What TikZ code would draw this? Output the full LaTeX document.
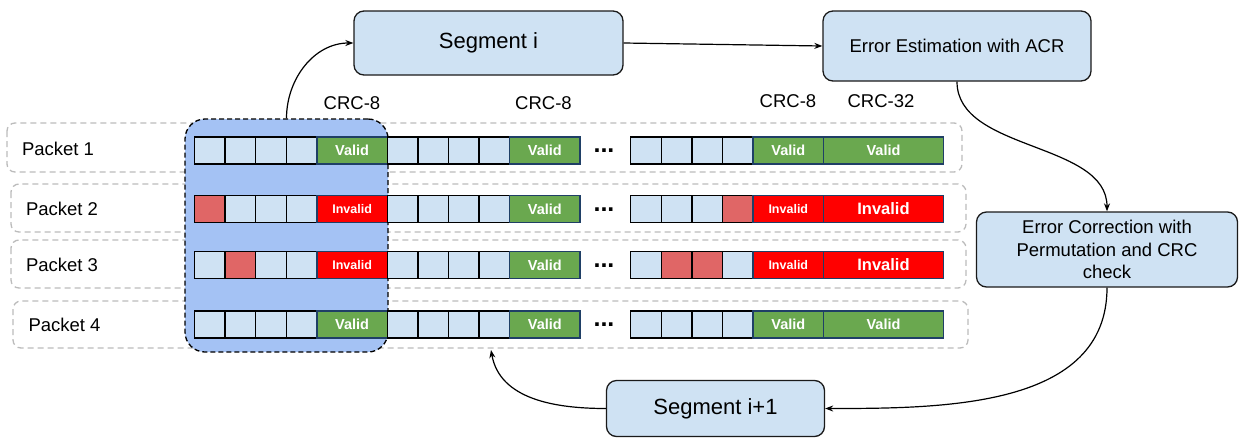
\documentclass[tikz,border=0pt]{standalone}
\usepackage{fontspec}
\setmainfont{Liberation Sans}
\usetikzlibrary{arrows.meta}

\definecolor{cellblue}{HTML}{CFE2F3}
\definecolor{cellred}{HTML}{E06666}
\definecolor{badred}{HTML}{FF0000}
\definecolor{okgreen}{HTML}{6AA84F}
\definecolor{selblue}{HTML}{A4C2F4}
\definecolor{crcedge}{HTML}{1F3F66}
\definecolor{rowgray}{HTML}{BBBBBB}
\definecolor{boxedge}{HTML}{1A1A1A}

\tikzset{
  lbl/.style={font=\fontsize{18.5}{22.5}\selectfont, inner sep=0pt},
  proc/.style={draw=boxedge, fill=cellblue, line width=1.3pt, rounded corners=10pt,
               align=center, inner sep=0pt, font=\fontsize{18.5}{22.5}\selectfont},
  segbox/.style={proc, font=\fontsize{22}{26}\selectfont},
  rowbox/.style={draw=rowgray, line width=1.3pt, dash pattern=on 6pt off 4pt, rounded corners=8pt},
  sel/.style={draw=black, fill=selblue, line width=1.3pt, dash pattern=on 5pt off 3pt,
              rounded corners=20pt, inner sep=0pt},
  cell/.style={draw=black, line width=1.4pt, minimum width=30.6pt, minimum height=27pt,
               inner sep=0pt, outer sep=0pt, anchor=west},
  crc/.style={draw=crcedge, line width=1.3pt, minimum height=27pt, inner sep=0pt,
              outer sep=0pt, anchor=west, text=white},
  crcok/.style={crc, fill=okgreen, minimum width=70.4pt, font=\bfseries\fontsize{14.5}{16}\selectfont},
  crcbad/.style={crc, fill=badred, minimum width=70.4pt, font=\bfseries\fontsize{12.5}{14}\selectfont},
  bigok/.style={crc, fill=okgreen, minimum width=120pt, font=\bfseries\fontsize{14.5}{16}\selectfont},
  bigbad/.style={crc, fill=badred, minimum width=120pt, font=\bfseries\fontsize{16.5}{18}\selectfont},
  dots/.style={font=\bfseries\fontsize{25}{27}\selectfont, inner sep=0pt},
  link/.style={draw=black, line width=1.2pt, -{Stealth[length=8pt,width=6pt]}}
}

% four data cells of one group, named <prefix>-1 .. <prefix>-4
\newcommand\cellgroup[7]{%
  \node[cell, fill=#4] (#1-1) at (#2, #3) {};
  \node[cell, fill=#5] (#1-2) at (#1-1.east) {};
  \node[cell, fill=#6] (#1-3) at (#1-2.east) {};
  \node[cell, fill=#7] (#1-4) at (#1-3.east) {};
}

\begin{document}
\begin{tikzpicture}[x=1pt, y=-1pt]
\useasboundingbox (0,0) rectangle (1239,437);

% dashed outlines of the four packets
\draw[rowbox] (7,123) rectangle (962,172);
\draw[rowbox] (11,184) rectangle (966,232);
\draw[rowbox] (11,240) rectangle (966,288);
\draw[rowbox] (13,301) rectangle (968,348);

% current segment selection
\node[sel, minimum width=203pt, minimum height=233pt] (sel) at (286.5,235.5) {};

% packet labels
\node[lbl] (p1) at (58,149) {Packet 1};
\node[lbl] (p2) at (62,209) {Packet 2};
\node[lbl] (p3) at (62,265) {Packet 3};
\node[lbl] (p4) at (64.5,325) {Packet 4};

% CRC headings
\node[lbl] (h1) at (352,103) {CRC-8};
\node[lbl] (h2) at (543.5,103) {CRC-8};
\node[lbl] (h3) at (788,101) {CRC-8};
\node[lbl] (h4) at (881,101) {CRC-32};

% packet 1
\cellgroup{r1a}{194.5}{150.5}{cellblue}{cellblue}{cellblue}{cellblue}
\node[crcok] (r1a-c) at (r1a-4.east) {Valid};
\cellgroup{r1b}{387.3}{150.5}{cellblue}{cellblue}{cellblue}{cellblue}
\node[crcok] (r1b-c) at (r1b-4.east) {Valid};
\node[dots] (r1d) at (604,151) {...};
\cellgroup{r1c}{630.7}{150.5}{cellblue}{cellblue}{cellblue}{cellblue}
\node[crcok] (r1c-c) at (r1c-4.east) {Valid};
\node[bigok] (r1c-t) at (r1c-c.east) {Valid};

% packet 2
\cellgroup{r2a}{194.5}{209}{cellred}{cellblue}{cellblue}{cellblue}
\node[crcbad] (r2a-c) at (r2a-4.east) {Invalid};
\cellgroup{r2b}{387.3}{209}{cellblue}{cellblue}{cellblue}{cellblue}
\node[crcok] (r2b-c) at (r2b-4.east) {Valid};
\node[dots] (r2d) at (604,209.5) {...};
\cellgroup{r2c}{630.7}{209}{cellblue}{cellblue}{cellblue}{cellred}
\node[crcbad] (r2c-c) at (r2c-4.east) {Invalid};
\node[bigbad] (r2c-t) at (r2c-c.east) {Invalid};

% packet 3
\cellgroup{r3a}{194.5}{265}{cellblue}{cellred}{cellblue}{cellblue}
\node[crcbad] (r3a-c) at (r3a-4.east) {Invalid};
\cellgroup{r3b}{387.3}{265}{cellblue}{cellblue}{cellblue}{cellblue}
\node[crcok] (r3b-c) at (r3b-4.east) {Valid};
\node[dots] (r3d) at (604,265.5) {...};
\cellgroup{r3c}{630.7}{265}{cellblue}{cellred}{cellred}{cellblue}
\node[crcbad] (r3c-c) at (r3c-4.east) {Invalid};
\node[bigbad] (r3c-t) at (r3c-c.east) {Invalid};

% packet 4
\cellgroup{r4a}{194.5}{324.5}{cellblue}{cellblue}{cellblue}{cellblue}
\node[crcok] (r4a-c) at (r4a-4.east) {Valid};
\cellgroup{r4b}{387.3}{324.5}{cellblue}{cellblue}{cellblue}{cellblue}
\node[crcok] (r4b-c) at (r4b-4.east) {Valid};
\node[dots] (r4d) at (604,325) {...};
\cellgroup{r4c}{630.7}{324.5}{cellblue}{cellblue}{cellblue}{cellblue}
\node[crcok] (r4c-c) at (r4c-4.east) {Valid};
\node[bigok] (r4c-t) at (r4c-c.east) {Valid};

% processing steps
\node[segbox, minimum width=269pt, minimum height=64pt] (seg) at (488.5,43) {Segment i};
\node[proc, minimum width=268pt, minimum height=70pt] (est) at (957,46) {Error Estimation with ACR};
\node[proc, minimum width=261pt, minimum height=75pt] (corr) at (1107,249.5)
  {Error Correction with\\Permutation and CRC\\check};
\node[segbox, minimum width=218pt, minimum height=56pt] (seg2) at (715.5,408.5) {Segment i+1};

\coordinate (ret) at (491,350);

% flow
\draw[link] (sel.north) to[out=90, in=180] (seg.west);
\draw[link] (seg.east) -- (est.west);
\draw[link] (est.south) to[out=-90, in=90, looseness=0.9] (corr.north);
\draw[link] (corr.south) to[out=-90, in=0] (seg2.east);
\draw[link] (seg2.west) to[out=180, in=-80] (ret);
\end{tikzpicture}
\end{document}
